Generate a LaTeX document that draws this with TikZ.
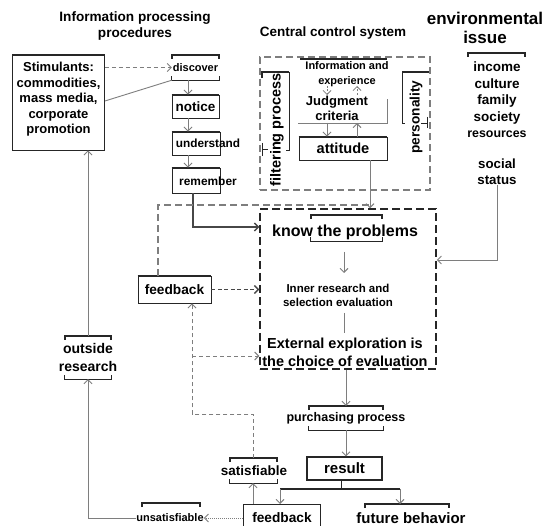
\documentclass[tikz,border=0pt]{standalone}
\usepackage{fontspec}
\setmainfont{Liberation Sans}
\usetikzlibrary{arrows.meta}
\definecolor{ln}{HTML}{7E7E7E}
\definecolor{bx}{HTML}{262626}
\newcommand{\topbar}[1]{\draw[line width=1.7pt,bx] (#1.north west) -- (#1.north east);}
\newcommand{\brk}[1]{%
  \draw[line width=1.6pt,bx] ([yshift=-4pt]#1.north west) -- (#1.north west) -- (#1.north east) -- ([yshift=-4pt]#1.north east);
  \draw[line width=1.2pt,bx] ([yshift=4pt]#1.south west) -- (#1.south west) -- (#1.south east) -- ([yshift=4pt]#1.south east);}
\newcommand{\brktop}[1]{%
  \draw[line width=1.6pt,bx] ([yshift=-4pt]#1.north west) -- (#1.north west) -- (#1.north east) -- ([yshift=-4pt]#1.north east);}
\begin{document}
\begin{tikzpicture}[x=1pt,y=-1pt,
  every node/.style={text=black, inner sep=0pt, align=center},
  fs/.style 2 args={font=\bfseries\fontsize{#1pt}{#2pt}\selectfont},
  boxn/.style={draw=bx, line width=0.9pt},
  garrow/.style={draw=ln, line width=0.9pt, -{Straight Barb[length=4pt,width=8pt]}},
  gline/.style={draw=ln, line width=0.9pt},
  darrow/.style={draw=bx!85, line width=1.3pt, -{Straight Barb[length=4pt,width=8pt]}},
  gdash/.style={draw=ln, line width=1.1pt, dash pattern=on 7pt off 4pt},
  gdasharrow/.style={draw=ln, line width=0.9pt, dash pattern=on 4pt off 3pt, -{Straight Barb[length=4pt,width=8pt]}},
  ddasharrow/.style={draw=bx!85, line width=1.3pt, dash pattern=on 4pt off 2.5pt, -{Straight Barb[length=4pt,width=8pt]}},
  gdotarrow/.style={draw=ln, line width=0.9pt, dash pattern=on 1pt off 1pt, -{Straight Barb[length=4pt,width=8pt]}},
  thickbar/.style={draw=bx, line width=1.7pt},
  thinbar/.style={draw=bx, line width=0.9pt},
]
\useasboundingbox (0,0) rectangle (546,526);
\fill[white] (0,0) rectangle (546,526);
\clip (0,0) rectangle (546,526);

% level coordinates
\coordinate (y227) at (0,227);
\coordinate (y260) at (0,260);
\coordinate (y356) at (0,356);
\coordinate (y414) at (0,414);
\coordinate (x192) at (192,0);
\coordinate (x370) at (370,205);

% titles
\node[fs={13.6}{16}] (tip) at (135,26) {Information processing\\procedures};
\node[fs={13.5}{16}] (tccs) at (333,33) {Central control system};
\node[fs={17}{19}] (tenv) at (485,27.5) {environmental\\issue};

% stimulants
\node[boxn, minimum width=92pt, minimum height=95pt] (stim) at (58.5,102.5) {};
\topbar{stim}
\node[fs={13}{15.5}] (stimt) at (58.5,99.5) {Stimulants:\\commodities,\\mass media,\\corporate\\promotion};

% information processing column
\node[fs={11}{13}, minimum width=47pt, minimum height=25pt] (disc) at (195.5,67.5) {discover};
\brk{disc}
\node[boxn, fs={13.5}{16}, minimum width=47pt, minimum height=23pt] (noti) at (195.5,106.5) {notice};
\topbar{noti}
\node[boxn, minimum width=48pt, minimum height=23pt] (und) at (196,143.5) {};
\topbar{und}
\node[fs={11.8}{14}] (undt) at (208,143.5) {understand};
\node[boxn, minimum width=48pt, minimum height=25pt] (rem) at (196,180.5) {};
\topbar{rem}
\node[fs={11.9}{14}] (remt) at (208,181) {remember};

\draw[gdasharrow] (stim.east |- disc) -- (disc.west);
\draw[gline] ([yshift=1.5pt]stim.east) -- (disc.south west);
\draw[garrow] ([xshift=-7.5pt]disc.south) -- ([xshift=-7.5pt]noti.north);
\draw[garrow] ([xshift=-7.5pt]noti.south) -- ([xshift=-8pt]und.north);
\draw[garrow] ([xshift=-8pt]und.south) -- ([xshift=-8pt]rem.north);

% central control system
\node[draw=ln, line width=1.2pt, dash pattern=on 7pt off 4pt, minimum width=170pt, minimum height=133pt] (ccs) at (345,123.5) {};
\node[fs={11}{15}] (info) at (347,74.5) {Information and\\experience};
\draw[thickbar] (300,59) -- (387,59);
\node[fs={13}{15}] (judg) at (337,108) {Judgment\\criteria};
\draw[gline] (298,123) -- (387,123) -- (387,99);
\draw[gdasharrow, line width=0.8pt, dash pattern=on 2pt off 1.5pt] (327,86) -- (327,95);
\draw[gdasharrow, line width=0.8pt, dash pattern=on 2pt off 1.5pt] (357,95) -- (357,86);
\node[boxn, fs={14.6}{17}, minimum width=88pt, minimum height=23pt] (att) at (343,148.5) {attitude};
\topbar{att}
\draw[garrow] (327,123) -- ([xshift=-16pt]att.north);
\draw[garrow] ([xshift=14pt]att.north) -- (357,123);

\node[fs={14.5}{17}, rotate=90] (filt) at (277,130) {filtering process};
\draw[thickbar] (262,78) -- (262,72) -- (289,72);
\draw[thinbar] (289,72) -- (289,150) -- (286,150);
\draw[thinbar] (262,143) -- (262,156);
\draw[thinbar] (262,149) -- (268,149);

\node[fs={13.7}{16}, rotate=90] (pers) at (416,117) {personality};
\draw[thickbar] (402,72) -- (429,72);
\draw[thinbar] (402,72) -- (402,123) -- (405,123);
\draw[thinbar] (427,117) -- (427,128);
\draw[thinbar] (421,123) -- (427,123);

% environmental issue
\node[fs={13.5}{16.5}] (envl) at (497,100) {income\\culture\\family\\society\\{\fontsize{12.4pt}{16.5pt}\selectfont resources}};
\draw[line width=1.4pt,bx] (468,57) -- (468,53) -- (525,53) -- (525,57);
\node[fs={13.3}{16}] (soc) at (497,172) {social\\status};

% inner decision box
\node[draw=bx, line width=1.5pt, dash pattern=on 8pt off 4pt, minimum width=176pt, minimum height=160pt] (inner) at (348,289) {};
\node[fs={16}{18}] (know) at (345,232) {know the problems};
\node[minimum width=71pt, minimum height=26pt] (knb) at (346.5,228) {};
\brk{knb}
\node[fs={11.5}{14}] (inn) at (338,295) {Inner research and\\selection evaluation};
\node[fs={14.5}{18}] (ext) at (345,352) {External exploration is\\the choice of evaluation};
\draw[garrow] (344,252) -- (344,273);
\draw[gline] (344,313) -- (344,333);

% connectors into the inner box
\draw[darrow] ([xshift=-3pt]rem.south) |- (inner.west |- y227);
\draw[garrow] ([xshift=27pt]att.south) -- ([xshift=22pt]inner.north);
\draw[garrow] (soc.south) |- (inner.east |- y260);

% middle feedback
\node[boxn, fs={13.7}{16}, minimum width=73pt, minimum height=27pt] (fb1) at (174.5,289.5) {feedback};
\topbar{fb1}
\draw[gdash] ([xshift=-16.5pt]fb1.north) |- (x370);
\draw[ddasharrow] (fb1.east) -- (inner.west |- fb1);

% outside research
\node[fs={14}{18}] (out) at (88,357) {outside\\research};
\node[minimum width=46pt, minimum height=43pt] (outb) at (88,357.5) {};
\brk{outb}
\draw[garrow] (outb.north) -- (stim.south -| outb.north);

% purchasing and result
\node[fs={12.5}{15}] (pur) at (346,418) {purchasing process};
\node[minimum width=74pt, minimum height=24pt] (purb) at (346,418) {};
\brk{purb}
\draw[garrow] (inner.south -| purb) -- (purb.north);
\node[boxn, fs={15}{17}, line width=1.1pt, minimum width=75pt, minimum height=23pt] (res) at (344.5,468.5) {result};
\draw[garrow] (purb.south) -- ([xshift=1.5pt]res.north);
\coordinate (br) at (341,489);
\draw[bx, line width=1pt] ([xshift=-3.5pt]res.south) -- (br);
\draw[bx, line width=1.7pt] (280,489) -- (400,489);
\coordinate (brl) at (280,489);
\coordinate (brr) at (400,489);

% bottom row
\node[boxn, minimum width=77pt, minimum height=40pt, anchor=north] (fb2) at (281.5,504) {};
\node[fs={13.7}{16}] (fb2t) at (282,518) {feedback};
\node[fs={15}{17}] (fut) at (411,518) {future behavior};
\node[minimum width=84pt, minimum height=30pt, anchor=north] (futb) at (407,504) {};
\brktop{futb}
\node[fs={13.5}{16}] (sat) at (254,470.5) {satisfiable};
\node[minimum width=47pt, minimum height=25pt] (satb) at (253.5,470.5) {};
\brk{satb}
\node[fs={11}{13}] (uns) at (170,518) {unsatisfiable};
\node[minimum width=58pt, minimum height=30pt, anchor=north] (unsb) at (171,503) {};
\brktop{unsb}

\draw[garrow] (brl) -- (brl |- fb2.north);
\draw[garrow] (brr) -- (brr |- futb.north);
\draw[garrow] ([xshift=-28.5pt]fb2.north) -- ([xshift=-0.5pt]satb.south);
\draw[gdotarrow] (fb2.west |- uns) -- (uns.east);
\draw[garrow] (uns.west) -| (outb.south);
\draw[gdasharrow] (satb.north) |- (x192 |- y414) -- (x192 |- fb1.south);
\draw[gdasharrow] (x192 |- y356) -- (inner.west |- y356);
\end{tikzpicture}
\end{document}
